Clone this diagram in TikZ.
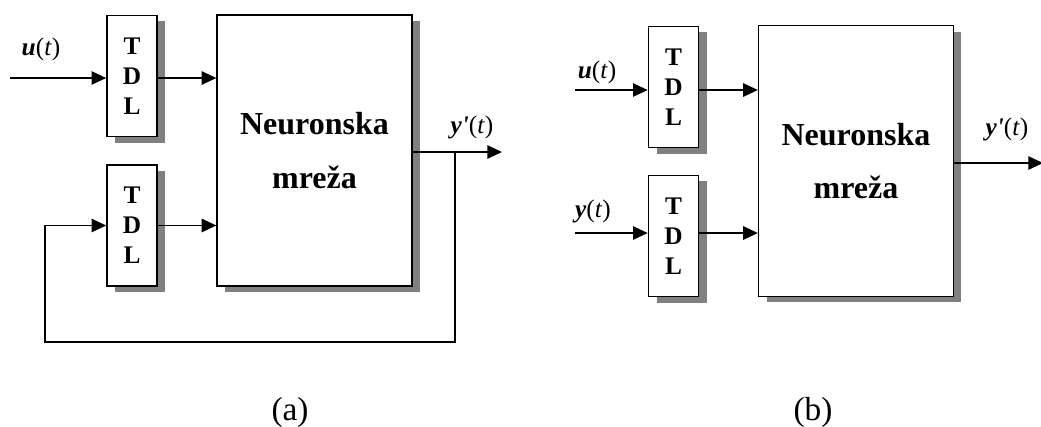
\documentclass[tikz,border=0pt]{standalone}
\usepackage{fontspec}
\setmainfont{Liberation Serif}
\newfontfamily\primefont{Liberation Serif}
\usetikzlibrary{arrows.meta, shadows, positioning}
\tikzstyle{tdl} = [rectangle, minimum width=37.5pt, minimum height=91pt, text centered, align=center, draw=black, line width=1.2pt, fill=white, drop shadow={shadow xshift=6pt, shadow yshift=-4.5pt, fill=black!50, opacity=1}, font=\bfseries\fontsize{19}{22.5}\selectfont]
\tikzstyle{network} = [rectangle, minimum width=146pt, minimum height=203pt, text centered, align=center, draw=black, line width=1.2pt, fill=white, drop shadow={shadow xshift=6pt, shadow yshift=-4.5pt, fill=black!50, opacity=1}, font=\bfseries\fontsize{24}{40}\selectfont]
\tikzstyle{signal} = [anchor=base, inner sep=0pt, font=\fontsize{19}{22}\selectfont]
\tikzstyle{caption} = [anchor=base, inner sep=0pt, font=\fontsize{25}{28}\selectfont]
\tikzstyle{arrow} = [line width=1.2pt, -{Triangle[length=11pt, width=10pt]}]
\newcommand{\sigu}{\textbf{\textit{u}}(\textit{t})}
\newcommand{\sigy}{\textbf{\textit{y}}(\textit{t})}
\newcommand{\sigyp}{\textbf{\textit{y{\primefont '}}}(\textit{t})}

\begin{document}
\begin{tikzpicture}[x=0.75pt, y=-0.75pt]
\useasboundingbox (0,0) rectangle (1041,426);

% (a) recurrent structure
\node (tdlA1) [tdl] at (132,76) {T\\D\\L};
\node (tdlA2) [tdl] at (132,225.5) {T\\D\\L};
\node (nnA) [network] at (314.5,150.5) {Neuronska\\mre\v{z}a};

\coordinate (inA1) at (10,78);
\coordinate (outA) at (502,152);
\coordinate (splitA) at (455,152);
\coordinate (loopA) at (45,342);

\node (uA) [signal] at (41,55) {\sigu};
\node (ypA) [signal] at (472,133) {\sigyp};
\node (capA) [caption] at (290,420) {(a)};

\draw [arrow] (inA1) -- (inA1 -| tdlA1.west);
\draw [arrow] (inA1 -| tdlA1.east) -- (inA1 -| nnA.west);
\draw [arrow] (tdlA2.east) -- (tdlA2.east -| nnA.west);
\draw [arrow] (outA -| nnA.east) -- (outA);
\draw [arrow] (splitA) |- (loopA) |- (tdlA2.west);

% (b) series-parallel structure
\node (tdlB1) [tdl] at (673.5,87) {T\\D\\L};
\node (tdlB2) [tdl] at (673.5,236) {T\\D\\L};
\node (nnB) [network] at (856,161) {Neuronska\\mre\v{z}a};

\coordinate (inB1) at (575,90);
\coordinate (inB2) at (575,233);
\coordinate (outB) at (1043,163);

\node (uB) [signal] at (597,78) {\sigu};
\node (yB) [signal] at (593,217) {\sigy};
\node (ypB) [signal] at (1007,135) {\sigyp};
\node (capB) [caption] at (813,420) {(b)};

\draw [arrow] (inB1) -- (inB1 -| tdlB1.west);
\draw [arrow] (inB1 -| tdlB1.east) -- (inB1 -| nnB.west);
\draw [arrow] (inB2) -- (inB2 -| tdlB2.west);
\draw [arrow] (inB2 -| tdlB2.east) -- (inB2 -| nnB.west);
\draw [arrow] (outB -| nnB.east) -- (outB);
\end{tikzpicture}
\end{document}
